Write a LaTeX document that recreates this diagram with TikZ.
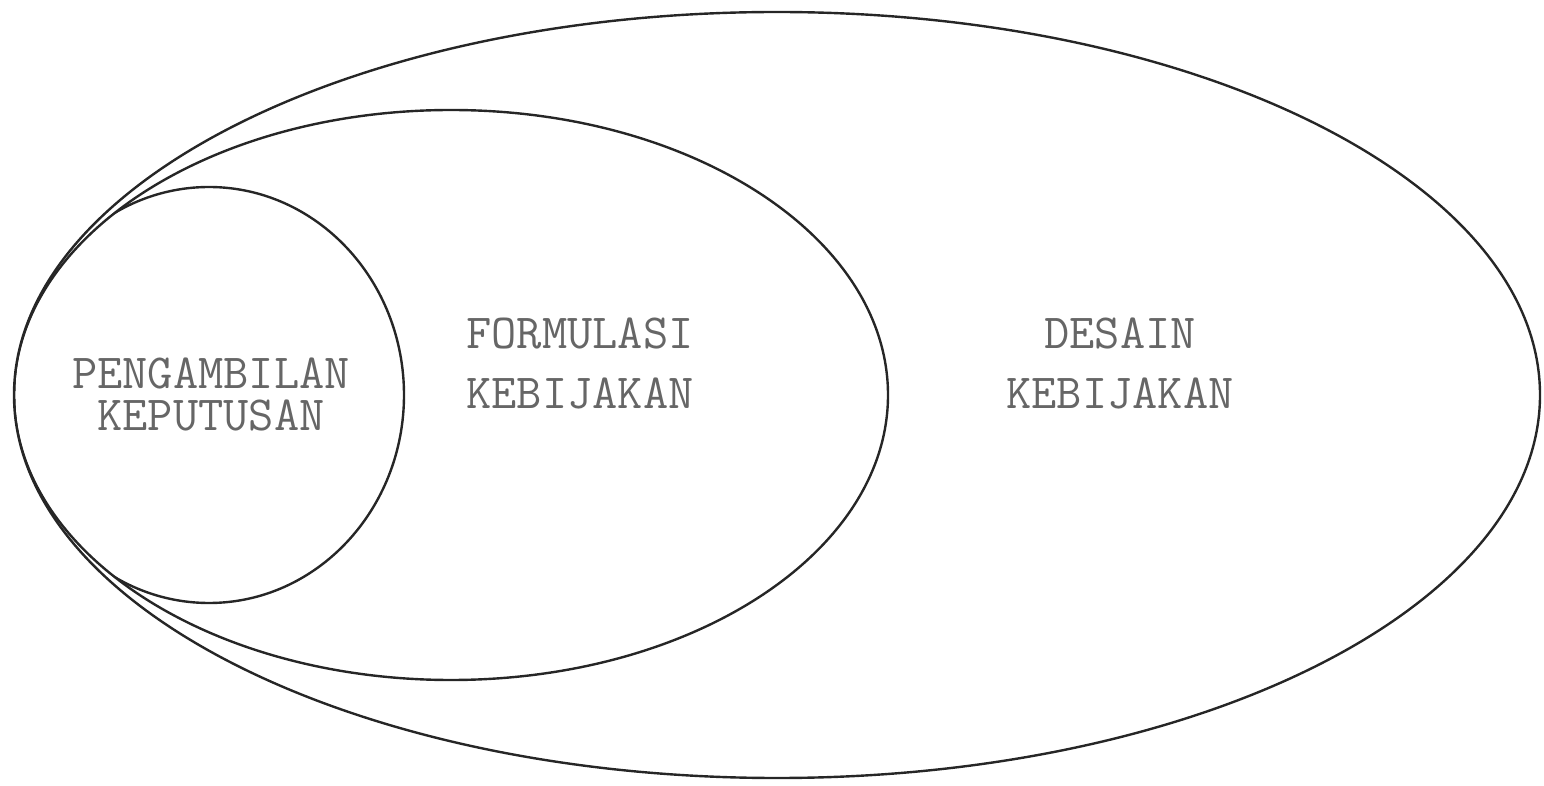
\documentclass[tikz,border=0pt]{standalone}
\begin{document}
\begin{tikzpicture}[x=1pt,y=1pt,
  ring/.style={draw=black!85, line width=2.4pt},
  lbl/.style={text=black!60, inner sep=0pt, text height=31pt, text depth=0pt,
    font=\ttfamily\fontsize{49}{49}\selectfont}]
\useasboundingbox (0,0) rectangle (1544,785);
\draw[ring] (777,390) ellipse [x radius=763, y radius=383];
\begin{scope}
  \clip (777,390) ellipse [x radius=763, y radius=383];
  \draw[ring] (451,390) ellipse [x radius=437, y radius=285];
\end{scope}
\begin{scope}
  \clip (451,390) ellipse [x radius=437, y radius=285];
  \draw[ring] (209,390) ellipse [x radius=195, y radius=208];
\end{scope}
\node[lbl] (pa) at (211,412) {PENGAMBILAN};
\node[lbl] (pb) at (211,370) {KEPUTUSAN};
\node[lbl] (fa) at (580,452) {FORMULASI};
\node[lbl] (fb) at (580,392) {KEBIJAKAN};
\node[lbl] (da) at (1120,452) {DESAIN};
\node[lbl] (db) at (1120,392) {KEBIJAKAN};
\end{tikzpicture}
\end{document}
